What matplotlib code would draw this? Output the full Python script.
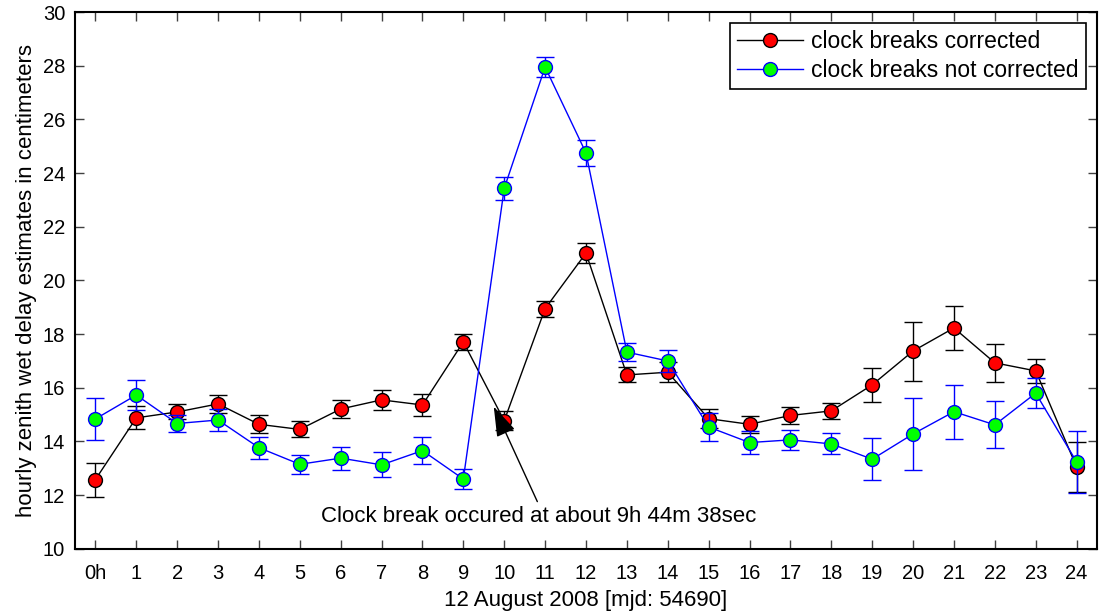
import matplotlib
matplotlib.use("Agg")
import matplotlib.pyplot as plt

plt.rcParams['font.family'] = ['Liberation Sans', 'DejaVu Sans']

hours = list(range(25))
hour_labels = ['0h'] + [str(h) for h in range(1, 25)]

corrected = [12.58, 14.88, 15.10, 15.40, 14.64, 14.45, 15.21, 15.55, 15.36, 17.71,
             14.77, 18.95, 21.02, 16.48, 16.58, 14.85, 14.64, 14.97, 15.14, 16.11,
             17.37, 18.23, 16.93, 16.63, 13.05]
corrected_err = [0.63, 0.43, 0.28, 0.33, 0.33, 0.30, 0.33, 0.36, 0.40, 0.30,
                 0.35, 0.30, 0.38, 0.28, 0.38, 0.36, 0.32, 0.33, 0.30, 0.64,
                 1.10, 0.82, 0.70, 0.46, 0.92]

not_corrected = [14.84, 15.73, 14.67, 14.80, 13.77, 13.15, 13.38, 13.13, 13.66, 12.60,
                 23.43, 27.95, 24.75, 17.33, 17.00, 14.54, 13.96, 14.06, 13.91, 13.34,
                 14.28, 15.11, 14.62, 15.80, 13.24]
not_corrected_err = [0.77, 0.55, 0.32, 0.42, 0.41, 0.35, 0.43, 0.47, 0.49, 0.37,
                     0.43, 0.36, 0.47, 0.34, 0.42, 0.53, 0.42, 0.38, 0.39, 0.79,
                     1.34, 1.00, 0.87, 0.57, 1.15]

break_hour = 9 + 44/60 + 38/3600

fig = plt.figure(figsize=(11.02, 6.16), dpi=100)
ax = fig.add_axes([0.068, 0.109, 0.9275, 0.8715])

eb1 = ax.errorbar(hours, corrected, yerr=corrected_err, color='k', lw=1, elinewidth=1,
                  capsize=6.5, capthick=1, marker='o', ms=10, mfc='#ff0000', mec='k',
                  mew=1, zorder=3)
eb2 = ax.errorbar(hours, not_corrected, yerr=not_corrected_err, color='#0000ff', lw=1,
                  elinewidth=1, capsize=6.5, capthick=1, marker='o', ms=10, mfc='#00ff00',
                  mec='#0000ff', mew=1, zorder=4)

# arrow pointing at the clock break
ax.annotate('', xy=(break_hour, 15.3), xytext=(10.81, 11.76),
            arrowprops=dict(arrowstyle='-|>,head_length=0.85,head_width=0.28', color='k',
                            lw=1, mutation_scale=22, shrinkA=0, shrinkB=0), zorder=5)
ax.text(10.84, 11.22, 'Clock break occured at about 9h 44m 38sec', fontsize=16,
        ha='center', va='center')

ax.set_xlim(-0.5, 24.5)
ax.set_ylim(10, 30)
ax.set_xticks(hours)
ax.set_xticklabels(hour_labels)
ax.set_yticks(range(10, 31, 2))
ax.tick_params(direction='in', top=True, right=True, length=6.5, width=1,
               color='#404040', labelsize=14.5)
ax.tick_params(axis='x', pad=11)
ax.tick_params(axis='y', pad=7)
for s in ax.spines.values():
    s.set_linewidth(1.5)

ax.set_xlabel('12 August 2008 [mjd: 54690]', fontsize=16, labelpad=5)
ax.set_ylabel('hourly zenith wet delay estimates in centimeters', fontsize=16, labelpad=4)

leg = ax.legend([eb1[0], eb2[0]], ['clock breaks corrected', 'clock breaks not corrected'],
                loc='upper right', fontsize=16.5, handlelength=2.9, fancybox=False,
                framealpha=1, edgecolor='k', borderpad=0.3, labelspacing=0.25,
                handletextpad=0.35, borderaxespad=0.5)
leg.get_frame().set_linewidth(1.2)

fig.savefig('out.png', dpi=100)
